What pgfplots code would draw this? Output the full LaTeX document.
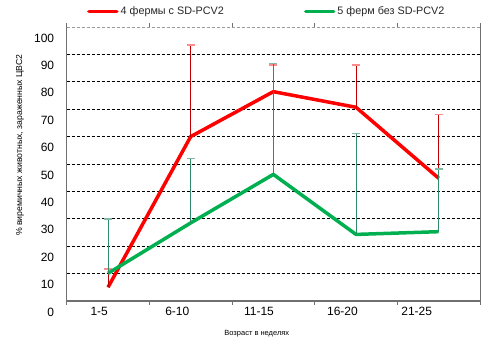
\documentclass[border=0pt]{standalone}
\usepackage{fontspec}
\setmainfont{Liberation Sans}
\usepackage{pgfplots}
\pgfplotsset{compat=1.18}
\definecolor{cred}{HTML}{FF0000}
\definecolor{cgreen}{HTML}{00B050}
\definecolor{ered}{HTML}{C00000}
\definecolor{egreen}{HTML}{2E8B6A}
\definecolor{frame}{HTML}{707070}
\begin{document}
\begin{tikzpicture}[x=1pt,y=1pt]
\path[use as bounding box] (0,0) rectangle (491,351);
\begin{axis}[
  at={(66.7pt,50pt)}, anchor=south west,
  width=413.3pt, height=274pt, scale only axis,
  xmin=0.5, xmax=5.5, ymin=0, ymax=100,
  axis line style={draw=none},
  /pgf/number format/assume math mode=true,
  xtick={0.5,1.5,...,5.5}, xticklabels={},
  tick align=outside,
  x tick style={frame, line width=0.8pt},
  major tick length=4pt,
  extra x ticks={0.893,1.838,2.826,3.836,4.734},
  extra x tick labels={1-5,6-10,11-15,16-20,21-25},
  extra x tick style={major tick length=0pt},
  xticklabel style={font=\fontsize{12}{14}\selectfont, yshift=-3pt},
  ytick={0,10,...,100},
  y tick style={draw=none},
  yticklabel style={font=\fontsize{12}{14}\selectfont, xshift=-5pt, yshift=-11pt},
  extra y ticks={10,20,...,90},
  extra y tick labels={},
  extra y tick style={grid=major, major tick length=0pt},
  major grid style={black, line width=0.7pt, dash pattern=on 3pt off 2pt},
  xlabel={Возраст в неделях},
  xlabel style={at={(axis description cs:0.46,-0.118)}, anchor=center, font=\fontsize{7.5}{9}\selectfont},
  ylabel={\% виремичных животных, зараженных ЦВС2},
  ylabel style={at={(axis description cs:-0.113,0.569)}, anchor=center, font=\fontsize{8.7}{10}\selectfont},
  legend columns=2,
  legend cell align=left,
  legend image code/.code={\draw[#1, line width=3.5pt, line cap=round] (0pt,0pt) -- (28pt,0pt);},
  legend style={at={(0.049,1.056)}, anchor=west, draw=none, fill=none, inner sep=0pt,
    font=\fontsize{10.8}{12}\selectfont, text=black!85,
    /tikz/every even column/.append style={column sep=78pt}},
  clip=false,
]
\addplot[cred, line width=3.5pt, line join=round,
  error bars/.cd, y dir=plus, y explicit,
  error bar style={ered, line width=0.8pt},
  error mark options={cred!45, rotate=90, mark size=4pt, line width=1.2pt}]
  coordinates {
  (1,5.0) +- (0,6.7)
  (2,60.0) +- (0,33.4)
  (3,76.4) +- (0,9.7)
  (4,70.7) +- (0,15.4)
  (5,44.8) +- (0,23.3)
  };
\addlegendentry{4 фермы с SD-PCV2}
\addplot[cgreen, line width=3.5pt, line join=round,
  error bars/.cd, y dir=plus, y explicit,
  error bar style={egreen, line width=0.8pt},
  error mark options={egreen!60, rotate=90, mark size=4pt, line width=1.2pt}]
  coordinates {
  (1,10.1) +- (0,19.8)
  (2,28.5) +- (0,23.6)
  (3,46.2) +- (0,40.5)
  (4,24.3) +- (0,36.9)
  (5,25.3) +- (0,22.9)
  };
\addlegendentry{5 ферм без SD-PCV2}
\draw[frame, line width=0.8pt] (rel axis cs:0,0) -- (rel axis cs:0,1);
\draw[frame, line width=0.8pt] (rel axis cs:1,0) -- (rel axis cs:1,1);
\draw[frame!70, line width=0.7pt, dash pattern=on 3pt off 2pt] (rel axis cs:0,1) -- (rel axis cs:1,1);
\draw[frame, line width=1.8pt] (rel axis cs:0,0) -- (rel axis cs:1,0);
\end{axis}
\end{tikzpicture}
\end{document}
